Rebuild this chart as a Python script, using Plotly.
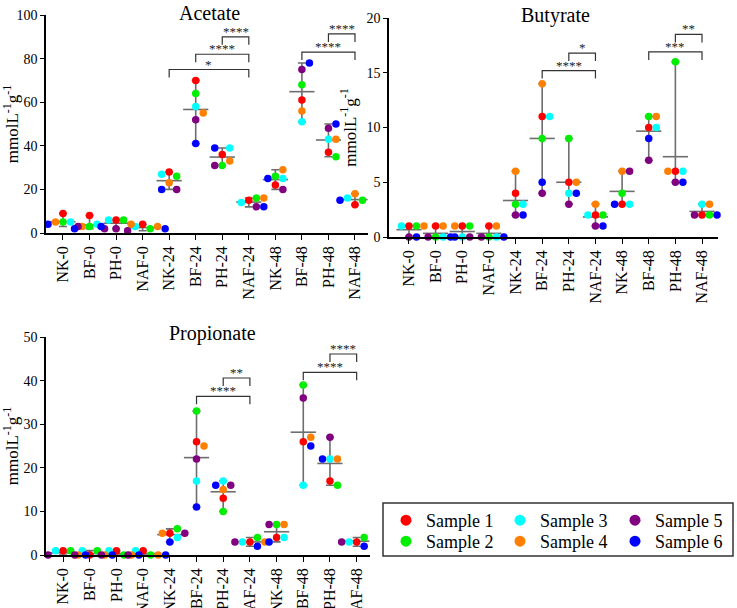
import math
import plotly.graph_objects as go

categories = ["NK-0", "BF-0", "PH-0", "NAF-0", "NK-24", "BF-24", "PH-24", "NAF-24",
              "NK-48", "BF-48", "PH-48", "NAF-48"]
sample_names = ["Sample 1", "Sample 2", "Sample 3", "Sample 4", "Sample 5", "Sample 6"]
sample_colors = ["#FF0000", "#00EE00", "#00FFFF", "#FF8000", "#800080", "#0000FF"]

# values per sample (rows) for each category (columns)
acetate = [
    [9, 8, 6, 4, 28, 70, 36, 15, 22, 61, 37, 13],
    [5, 3, 6, 2, 26, 64, 31, 16, 26, 68, 35, 15],
    [5, 4, 6, 3, 27, 58, 39, 14, 25, 51, 43, 16],
    [5, 3, 4, 3, 23, 55, 33, 16, 29, 56, 43, 18],
    [3, 2, 2, 1, 20, 52, 31, 12, 20, 75, 48, 15],
    [4, 2, 3, 2, 20, 41, 39, 12, 25, 78, 50, 15],
]
butyrate = [
    [1, 1, 1, 1, 4, 11, 5, 2, 3, 10, 6, 2],
    [1, 0, 1, 0, 3, 9, 9, 2, 4, 11, 16, 2],
    [1, 0, 0, 0, 3, 11, 4, 2, 3, 10, 6, 3],
    [1, 1, 1, 1, 6, 14, 5, 3, 6, 11, 6, 3],
    [0, 0, 0, 0, 2, 4, 3, 1, 6, 7, 5, 2],
    [0, 0, 0, 0, 2, 5, 4, 1, 3, 9, 5, 2],
]
propionate = [
    [1, 0, 1, 1, 5, 26, 13, 3, 4, 26, 17, 3],
    [1, 1, 0, 0, 6, 33, 10, 4, 7, 39, 16, 4],
    [1, 1, 1, 1, 4, 17, 17, 3, 4, 16, 22, 3],
    [0, 0, 0, 0, 5, 25, 15, 3, 7, 27, 22, 4],
    [0, 0, 0, 0, 5, 22, 16, 3, 7, 36, 27, 3],
    [0, 0, 0, 0, 3, 11, 16, 2, 3, 25, 22, 2],
]

# significance comparisons: (from category, to category, bracket level, label)
acetate_comps = [("NK-24", "NAF-24", 75, "*"), ("BF-24", "NAF-24", 82, "****"),
                 ("PH-24", "NAF-24", 90, "****"), ("BF-48", "NAF-48", 83, "****"),
                 ("PH-48", "NAF-48", 91.3, "****")]
butyrate_comps = [("BF-24", "NAF-24", 15.2, "****"), ("PH-24", "NAF-24", 16.8, "*"),
                  ("BF-48", "NAF-48", 16.9, "***"), ("PH-48", "NAF-48", 18.5, "**")]
propionate_comps = [("BF-24", "NAF-24", 36.4, "****"), ("PH-24", "NAF-24", 40.6, "**"),
                    ("BF-48", "NAF-48", 41.9, "****"), ("PH-48", "NAF-48", 46.1, "****")]

W, H = 737, 608
FONT = "Liberation Serif"
DOT = 7.5

panels = [
    dict(title="Acetate", data=acetate, ymax=100, dtick=20, xpx=(46, 368), ypx=(15, 233),
         xr=(-0.64, 11.49), comps=acetate_comps, tpos=(209, 13)),
    dict(title="Butyrate", data=butyrate, ymax=20, dtick=5, xpx=(389, 718), ypx=(18, 237),
         xr=(-0.75, 11.6), comps=butyrate_comps, tpos=(555, 15)),
    dict(title="Propionate", data=propionate, ymax=50, dtick=10, xpx=(46, 370), ypx=(337, 555),
         xr=(-0.64, 11.5), comps=propionate_comps, tpos=(212, 333)),
]

fig = go.Figure()
shapes = []
annotations = []

for pi, p in enumerate(panels):
    sfx = "" if pi == 0 else str(pi + 1)
    xa, ya = "x" + sfx, "y" + sfx
    x0, x1 = p["xpx"]
    yt, yb = p["ypx"]
    pxx = (x1 - x0) / (p["xr"][1] - p["xr"][0])
    pxy = (yb - yt) / p["ymax"]
    data = p["data"]
    ncat = len(categories)

    # mean and range
    means, ups, downs = [], [], []
    for c in range(ncat):
        vals = [data[s][c] for s in range(6)]
        m = sum(vals) / len(vals)
        means.append(m)
        ups.append(max(vals) - m)
        downs.append(m - min(vals))
    fig.add_trace(go.Scatter(
        x=list(range(ncat)), y=means, mode="markers", xaxis=xa, yaxis=ya, showlegend=False,
        marker=dict(symbol="line-ew", size=18, line=dict(width=1.6, color="#6e6e6e")),
        error_y=dict(type="data", symmetric=False, array=ups, arrayminus=downs,
                     color="#6e6e6e", thickness=1.6, width=4),
        cliponaxis=False, hoverinfo="skip"))

    # beeswarm placement
    xs = [[0.0] * ncat for _ in range(6)]
    cands = [0]
    for i in range(1, 8):
        cands += [i, -i]
    for c in range(ncat):
        placed = []
        for s in range(6):
            vy = data[s][c] * pxy
            for kk in cands:
                ox = kk * DOT
                if all(math.hypot(ox - px_, vy - py_) >= DOT * 0.98 for px_, py_ in placed):
                    placed.append((ox, vy))
                    xs[s][c] = c + ox / pxx
                    break
    for s in range(6):
        fig.add_trace(go.Scatter(
            x=xs[s], y=data[s], mode="markers", xaxis=xa, yaxis=ya, showlegend=False,
            name=sample_names[s], marker=dict(size=DOT, color=sample_colors[s]),
            cliponaxis=False))

    # brackets
    h = 8 / pxy
    for a, b, lvl, lab in p["comps"]:
        i1, i2 = categories.index(a), categories.index(b)
        shapes.append(dict(type="path", xref=xa, yref=ya,
                           path=f"M {i1},{lvl - h} L {i1},{lvl} L {i2},{lvl} L {i2},{lvl - h}",
                           line=dict(color="#333333", width=1.2)))
        annotations.append(dict(x=(i1 + i2) / 2, y=lvl, xref=xa, yref=ya, text=lab,
                                showarrow=False, yanchor="bottom", yshift=-4,
                                font=dict(family=FONT, size=13, color="#222")))

    annotations.append(dict(x=p["tpos"][0] / W, y=1 - p["tpos"][1] / H, xref="paper", yref="paper",
                            text=p["title"], showarrow=False, xanchor="center", yanchor="middle",
                            font=dict(family=FONT, size=20, color="black")))

    xdom = [x0 / W, x1 / W]
    ydom = [1 - yb / H, 1 - yt / H]
    fig.update_layout(**{
        "xaxis" + sfx: dict(domain=xdom, range=list(p["xr"]), anchor=ya, tickmode="array",
                            tickvals=list(range(ncat)), ticktext=categories, tickangle=-90,
                            showline=True, linecolor="black", linewidth=1.5, ticks="outside",
                            ticklen=5, tickcolor="black", showgrid=False, zeroline=False,
                            automargin=False,
                            tickfont=dict(family=FONT, size=16, color="black")),
        "yaxis" + sfx: dict(domain=ydom, range=[0, p["ymax"]], anchor=xa, dtick=p["dtick"],
                            showline=True, linecolor="black", linewidth=1.5, ticks="outside",
                            ticklen=4, tickcolor="black", showgrid=False, zeroline=False,
                            automargin=False,
                            tickfont=dict(family=FONT, size=14, color="black"),
                            title=dict(text="mmolL<sup>-1</sup>g<sup>-1</sup>", standoff=6,
                                       font=dict(family=FONT, size=17, color="black"))),
    })

# legend: three columns of two entries, each entry its own legend
leg_x = [386, 386, 500, 500, 615, 615]
leg_y = [502, 523, 502, 523, 502, 523]
leg_layout = {}
for s in range(6):
    lname = "legend" if s == 0 else f"legend{s + 1}"
    fig.add_trace(go.Scatter(x=[None], y=[None], mode="markers", name=sample_names[s],
                             marker=dict(size=11, color=sample_colors[s]),
                             legend=lname, showlegend=True))
    leg_layout[lname] = dict(x=leg_x[s] / W, y=1 - leg_y[s] / H, orientation="v",
                             yanchor="top", xanchor="left", bgcolor="rgba(0,0,0,0)",
                             borderwidth=0, font=dict(family=FONT, size=18, color="black"),
                             itemwidth=30)

shapes.append(dict(type="rect", xref="paper", yref="paper", x0=383 / W, x1=733 / W,
                   y0=1 - 556 / H, y1=1 - 503 / H, line=dict(color="#333", width=1.5)))

fig.update_layout(
    width=W, height=H, margin=dict(l=0, r=0, t=0, b=0),
    plot_bgcolor="white", paper_bgcolor="white",
    shapes=shapes, annotations=annotations, **leg_layout,
)

fig.write_html("out.html", config={"displayModeBar": False},
               post_script="document.body.style.margin='0';document.body.style.padding='0';"
                           "document.body.style.overflow='hidden';")
